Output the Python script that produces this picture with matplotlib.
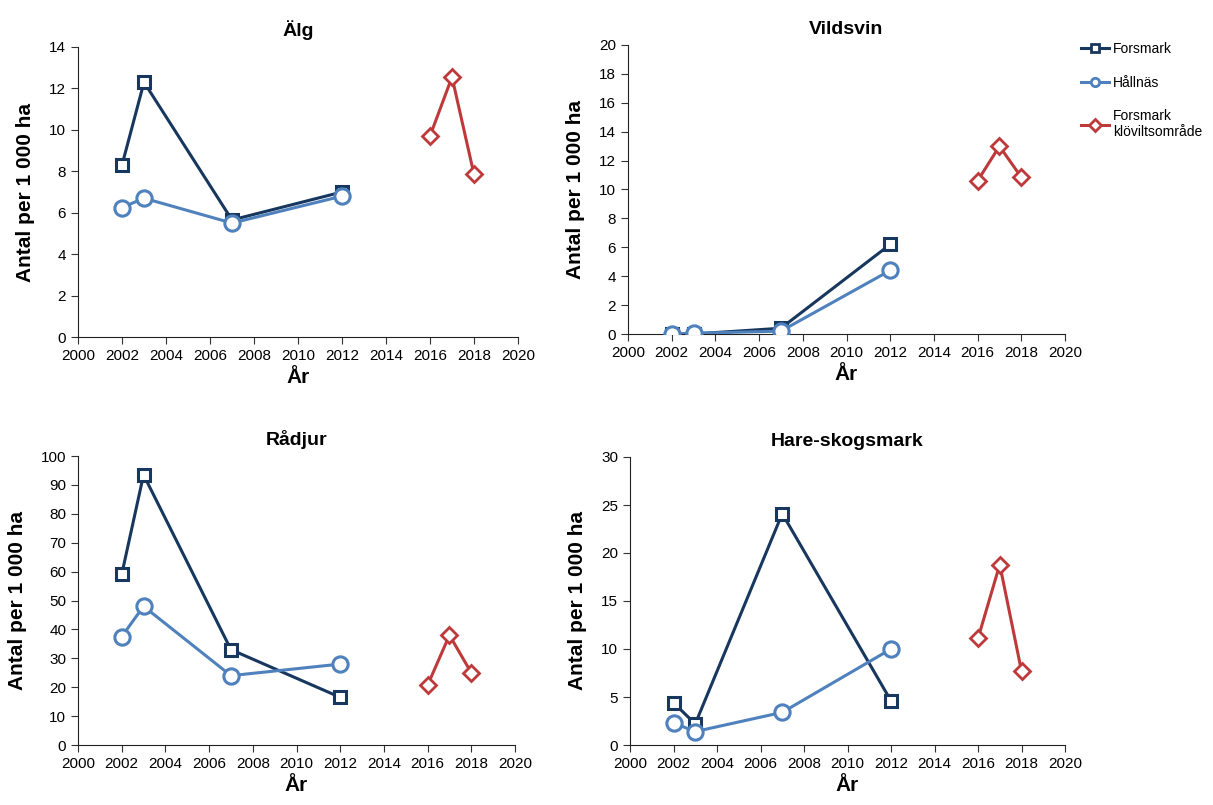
import matplotlib
matplotlib.use("Agg")
import matplotlib.pyplot as plt
from matplotlib.lines import Line2D

plt.rcParams['font.family'] = ['Liberation Sans', 'DejaVu Sans']

# --- data ---
years_main = [2002, 2003, 2007, 2012]
years_klov = [2016, 2017, 2018]

titles = ["Älg", "Vildsvin", "Rådjur", "Hare-skogsmark"]
forsmark = [
    [8.3, 12.3, 5.65, 7.0],
    [0.0, 0.0, 0.4, 6.2],
    [59, 93.5, 33, 16.5],
    [4.4, 2.2, 24.1, 4.6],
]
hallnas = [
    [6.25, 6.7, 5.5, 6.8],
    [0.0, 0.05, 0.2, 4.4],
    [37.5, 48, 24, 28],
    [2.3, 1.4, 3.4, 10.0],
]
klov = [
    [9.7, 12.55, 7.85],
    [10.6, 13.0, 10.85],
    [20.7, 38, 25],
    [11.1, 18.8, 7.7],
]
y_max = [14, 20, 100, 30]
y_step = [2, 2, 10, 5]

C_FORS = "#17375E"
C_HALL = "#4F81BD"
C_KLOV = "#BE3A3A"

fig = plt.figure(figsize=(12.13, 8.05), dpi=100)
W, H = 1213, 805
# axes boxes in pixels: left, top, right, bottom
boxes = [
    (78, 47, 518, 337),
    (628, 45, 1065, 334),
    (78, 456, 515, 745),
    (630, 457, 1065, 745),
]

for i, (l, t, r, b) in enumerate(boxes):
    ax = fig.add_axes([l / W, 1 - b / H, (r - l) / W, (b - t) / H])
    ax.plot(years_main, forsmark[i], color=C_FORS, lw=2.2, marker="s", ms=9,
            mfc="white", mec=C_FORS, mew=2.2, zorder=3)
    ax.plot(years_main, hallnas[i], color=C_HALL, lw=2.2, marker="o", ms=11,
            mfc="white", mec=C_HALL, mew=2.2, zorder=4)
    ax.plot(years_klov, klov[i], color=C_KLOV, lw=2.2, marker="D", ms=8,
            mfc="white", mec=C_KLOV, mew=2.0, zorder=3)
    ax.set_xlim(2000, 2020)
    ax.set_ylim(0, y_max[i])
    ax.set_xticks(range(2000, 2021, 2))
    ax.set_yticks(range(0, y_max[i] + 1, y_step[i]))
    ax.tick_params(direction="out", length=5, labelsize=11, color="#333333")
    ax.spines["top"].set_visible(False)
    ax.spines["right"].set_visible(False)
    ax.spines["left"].set_color("#222222")
    ax.spines["bottom"].set_color("#222222")
    ax.set_title(titles[i], fontsize=14, fontweight="bold", pad=8)
    ax.set_xlabel("År", fontsize=15, fontweight="bold", labelpad=4)
    ax.set_ylabel("Antal per 1 000 ha", fontsize=15, fontweight="bold", labelpad=10)
    for lab in ax.get_xticklabels() + ax.get_yticklabels():
        lab.set_clip_on(False)

handles = [
    Line2D([], [], color=C_FORS, lw=2.2, marker="s", ms=6, mfc="white", mec=C_FORS, mew=2),
    Line2D([], [], color=C_HALL, lw=2.2, marker="o", ms=6, mfc="white", mec=C_HALL, mew=2),
    Line2D([], [], color=C_KLOV, lw=2.2, marker="D", ms=6, mfc="white", mec=C_KLOV, mew=2),
]
labels = ["Forsmark", "Hållnäs", "Forsmark\nklöviltsområde"]
fig.legend(handles, labels, loc="upper left", bbox_to_anchor=(1073 / W, 1 - 34 / H),
           frameon=False, fontsize=10, handlelength=2.0, handletextpad=0.3,
           labelspacing=1.4, borderaxespad=0.2)

fig.savefig("out.png", dpi=100)
